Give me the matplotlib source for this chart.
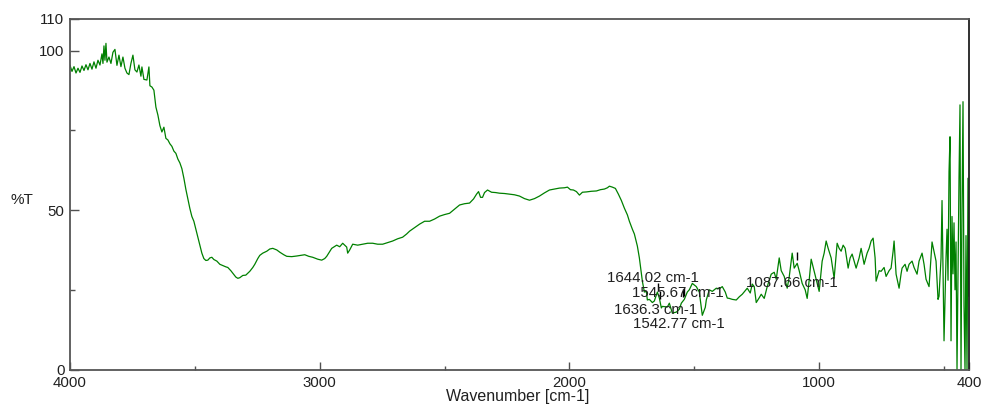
import numpy as np
import matplotlib.pyplot as plt

# FTIR spectrum (wavenumber cm-1, %T)
wavenumber = [
    4000, 3992, 3984, 3976, 3968, 3960, 3952, 3944, 3936, 3928, 3920, 3912, 3904, 3896,
    3888, 3880, 3872, 3868, 3864, 3860, 3856, 3852, 3844, 3836, 3828, 3820, 3812, 3804,
    3796, 3788, 3780, 3772, 3764, 3756, 3748, 3740, 3732, 3724, 3716, 3712, 3704, 3692,
    3684, 3680, 3672, 3664, 3656, 3648, 3640, 3632, 3624, 3616, 3608, 3600, 3592, 3584,
    3576, 3568, 3560, 3552, 3544, 3536, 3528, 3520, 3512, 3504, 3496, 3488, 3480, 3472,
    3464, 3456, 3448, 3440, 3432, 3424, 3412, 3400, 3388, 3376, 3368, 3356, 3348, 3336,
    3328, 3320, 3308, 3296, 3280, 3268, 3260, 3248, 3240, 3228, 3212, 3200, 3188, 3172,
    3160, 3144, 3132, 3112, 3092, 3076, 3060, 3044, 3028, 3008, 2992, 2980, 2972, 2960,
    2952, 2940, 2932, 2920, 2908, 2900, 2892, 2888, 2880, 2868, 2848, 2828, 2808, 2788,
    2768, 2748, 2728, 2708, 2688, 2668, 2652, 2640, 2620, 2600, 2580, 2560, 2540, 2520,
    2500, 2480, 2460, 2440, 2420, 2400, 2384, 2372, 2364, 2356, 2348, 2340, 2328, 2312,
    2296, 2280, 2260, 2240, 2220, 2200, 2180, 2160, 2140, 2120, 2100, 2080, 2060, 2040,
    2020, 2008, 1996, 1984, 1972, 1960, 1948, 1932, 1912, 1892, 1876, 1860, 1848, 1840,
    1828, 1816, 1804, 1792, 1780, 1768, 1760, 1748, 1740, 1728, 1720, 1712, 1708, 1700,
    1692, 1688, 1680, 1668, 1660, 1648, 1640, 1632, 1628, 1608, 1600, 1588, 1572, 1560,
    1552, 1540, 1528, 1520, 1508, 1500, 1492, 1480, 1468, 1456, 1452, 1440, 1428, 1412,
    1400, 1388, 1376, 1368, 1360, 1348, 1332, 1320, 1308, 1288, 1276, 1268, 1260, 1252,
    1240, 1232, 1220, 1208, 1192, 1180, 1172, 1160, 1152, 1140, 1128, 1120, 1108, 1100,
    1088, 1080, 1068, 1056, 1048, 1040, 1032, 1020, 1008, 1000, 988, 980, 972, 964,
    952, 940, 928, 920, 912, 904, 896, 884, 876, 868, 860, 852, 840, 832,
    820, 808, 800, 792, 784, 776, 772, 760, 752, 740, 732, 720, 712, 704,
    700, 692, 680, 672, 668, 656, 648, 640, 628, 620, 608, 600, 588, 580,
    572, 560, 548, 540, 532, 524, 520, 512, 508, 504, 500, 492, 488, 484,
    480, 476, 472, 468, 464, 460, 456, 452, 448, 444, 440, 436, 432, 428,
    424, 420, 416, 412, 408, 404, 400,
]
transmittance = [
    95.4, 93.5, 95.0, 93.0, 94.5, 93.2, 95.2, 93.8, 95.6, 94.0, 96.0, 94.2, 96.5, 94.5,
    97.0, 95.5, 99.0, 96.0, 101.5, 97.0, 102.3, 96.4, 98.0, 96.0, 99.5, 100.4, 95.4, 98.6,
    95.0, 98.0, 94.5, 93.0, 92.5, 96.0, 98.6, 94.0, 93.3, 95.5, 92.0, 94.9, 91.0, 90.8,
    94.9, 89.0, 88.6, 87.6, 82.3, 79.8, 76.5, 74.5, 76.0, 72.5, 72.0, 70.8, 70.0, 68.5,
    67.8, 66.0, 64.8, 63.0, 60.0, 56.5, 53.5, 50.5, 48.0, 46.5, 44.0, 41.5, 39.0, 36.5,
    34.8, 34.2, 34.3, 35.0, 35.2, 34.5, 34.0, 33.0, 32.6, 32.2, 32.0, 31.0, 30.2, 29.0,
    28.6, 28.8, 29.5, 29.6, 30.8, 32.0, 33.0, 34.8, 35.8, 36.5, 37.1, 37.8, 38.0, 37.5,
    36.8, 36.0, 35.5, 35.4, 35.6, 35.8, 36.0, 35.5, 35.2, 34.6, 34.3, 34.8, 35.5, 37.0,
    38.0, 38.6, 39.0, 38.5, 39.6, 39.0, 38.4, 36.5, 37.5, 39.3, 39.0, 39.3, 39.6, 39.6,
    39.3, 39.3, 39.8, 40.3, 41.0, 41.5, 42.5, 43.4, 44.5, 45.6, 46.5, 46.5, 47.2, 48.1,
    48.6, 49.0, 50.3, 51.6, 52.0, 52.2, 53.5, 55.0, 55.8, 54.0, 54.0, 55.5, 56.3, 55.6,
    55.5, 55.3, 55.2, 55.0, 54.8, 54.4, 53.6, 53.1, 53.6, 54.4, 55.4, 56.3, 56.6, 56.9,
    57.0, 57.2, 56.4, 56.3, 55.8, 54.7, 55.6, 55.7, 55.9, 56.0, 56.4, 56.6, 57.0, 57.5,
    57.2, 56.8, 55.0, 53.0, 50.6, 48.5, 46.5, 44.0, 42.5, 38.7, 35.0, 30.0, 27.7, 24.3,
    24.5, 21.8, 22.0, 21.0, 21.5, 24.3, 22.4, 19.3, 19.8, 19.6, 20.8, 17.7, 18.0, 18.9,
    20.8, 22.0, 24.3, 25.0, 27.0, 26.5, 26.0, 24.3, 17.0, 19.5, 21.8, 25.0, 24.5, 25.5,
    25.3, 26.0, 24.3, 22.4, 22.3, 22.0, 21.8, 22.8, 23.6, 25.5, 24.0, 26.8, 26.0, 21.0,
    22.5, 23.6, 22.3, 26.0, 29.9, 30.5, 28.3, 35.0, 31.0, 29.2, 25.5, 29.0, 36.5, 31.8,
    33.3, 31.0, 27.0, 25.0, 22.3, 28.0, 34.6, 30.8, 27.0, 24.5, 34.0, 36.5, 40.3, 38.0,
    35.0, 28.6, 39.6, 38.0, 37.1, 39.0, 38.0, 31.8, 35.0, 36.2, 34.0, 31.8, 35.0, 38.0,
    33.0, 36.5, 38.0, 40.3, 41.2, 35.0, 27.7, 31.0, 30.8, 32.0, 29.2, 31.0, 31.8, 37.0,
    40.3, 29.9, 25.5, 30.0, 31.8, 33.0, 30.8, 33.0, 34.0, 32.0, 29.9, 34.0, 36.5, 33.0,
    28.3, 26.0, 40.0, 37.0, 34.0, 22.0, 23.0, 35.0, 53.0, 30.0, 9.0, 35.0, 44.0, 28.0,
    62.0, 73.0, 9.0, 48.0, 30.0, 46.0, 25.0, 40.0, 0.0, 30.0, 60.0, 83.0, 0.0, 50.0,
    84.0, 20.0, 0.0, 42.0, 0.0, 60.0, 23.0,
]

peak_wn = [1644.02, 1545.67, 1636.3, 1542.77, 1087.66]
peak_text = ["1644.02 cm-1", "1545.67 cm-1", "1636.3 cm-1", "1542.77 cm-1", "1087.66 cm-1"]
# label anchor (left edge, vertical centre) in data units
label_xy = [(1848, 28.7), (1748, 24.0), (1820, 18.8), (1744, 14.3), (1292, 27.1)]

plt.rcParams['font.family'] = ['Liberation Sans', 'DejaVu Sans']

fig = plt.figure(figsize=(9.82, 4.05), dpi=100)
ax = fig.add_axes([70 / 982, 1 - 369.5 / 405, 899 / 982, 350.7 / 405])

ax.plot(wavenumber, transmittance, color='#008000', lw=0.9)

# peak markers and labels
wn_rev = wavenumber[::-1]
t_rev = transmittance[::-1]
for p, txt, (lx, ly) in zip(peak_wn, peak_text, label_xy):
    ym = np.interp(p, wn_rev, t_rev) + 2.5
    ax.plot([p], [ym], marker='|', color='black', ms=6, mew=1)
    ax.text(lx, ly, txt, fontsize=10.8, ha='left', va='center', color='#202020', zorder=5)

ax.set_xlim(4000, 400)
ax.set_ylim(0, 110)
ax.set_xticks([4000, 3000, 2000, 1000, 400])
ax.set_xticklabels(['4000', '3000', '2000', '1000', '400'])
ax.set_xticks([3500, 2500, 1500, 500], minor=True)
ax.set_yticks([0, 50, 100, 110])
ax.set_yticks([25, 75], minor=True)

ax.tick_params(which='both', direction='in', colors='#505050', labelcolor='#202020', labelsize=10.8)
ax.tick_params(axis='x', which='major', length=6, width=1, pad=5)
ax.tick_params(axis='x', which='minor', length=3, width=1)
ax.tick_params(axis='y', which='major', length=6.5, width=1, pad=4)
ax.tick_params(axis='y', which='minor', length=3.5, width=1)

for side in ['left', 'bottom', 'top']:
    ax.spines[side].set_color('#555555')
    ax.spines[side].set_linewidth(1.3)
ax.spines['right'].set_color('#202020')
ax.spines['right'].set_linewidth(1.3)

fig.text(22 / 982, 1 - 200 / 405, '%T', fontsize=11, ha='center', va='center', color='#202020')
fig.text(518 / 982, 1 - 397 / 405, 'Wavenumber [cm-1]', fontsize=11.5, ha='center', va='center', color='#202020')

fig.savefig('out.png', dpi=100)
